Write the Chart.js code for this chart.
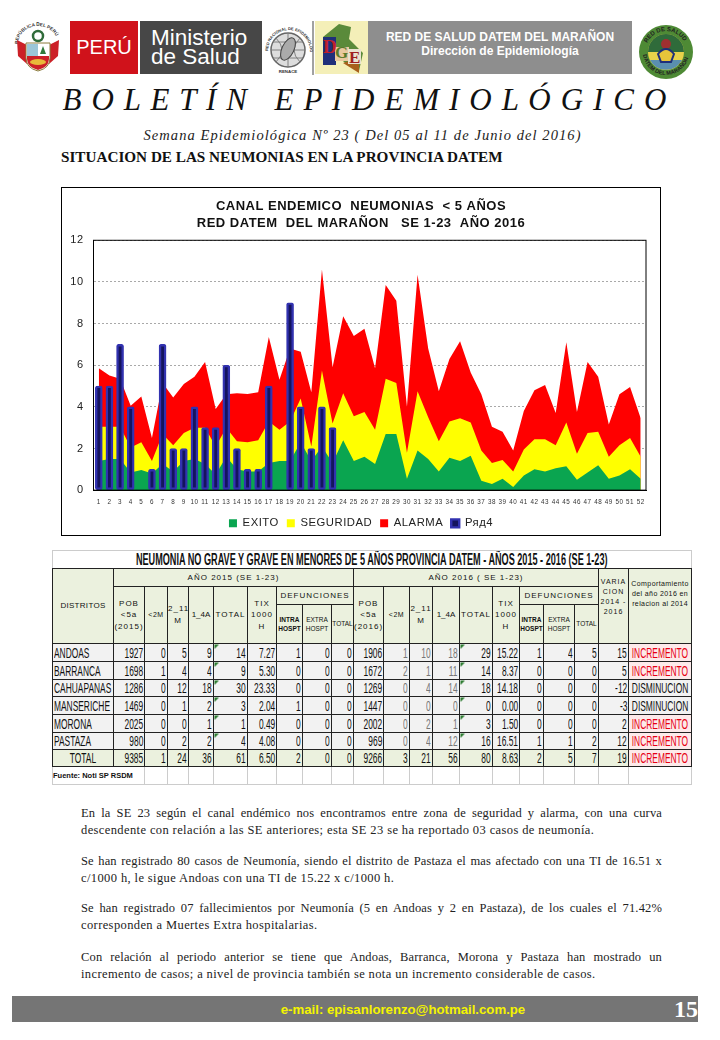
<!DOCTYPE html>
<html lang="es">
<head>
<meta charset="utf-8">
<title>Boletín Epidemiológico</title>
<script src="https://cdn.jsdelivr.net/npm/chart.js@4"></script>
<style>
html,body{margin:0;padding:0;background:#fff;width:720px;height:1040px;overflow:hidden}
.a{position:absolute}
#page{position:relative;width:720px;height:1040px;font-family:"Liberation Sans",Arial,sans-serif}
#chartBox{left:61px;top:187px;width:598px;height:347px;border:1px solid #000;background:#fff}
#chartBox canvas{display:block}
table{border-collapse:collapse;table-layout:fixed;position:absolute;left:52px;top:550px;width:639px;font-family:"Liberation Sans",sans-serif;color:#111}
td{padding:0;border:1px solid #222;font-size:14px;line-height:1;overflow:hidden;white-space:nowrap}
td span.s{display:inline-block;transform:scaleX(.6)}
td.n span.s{transform-origin:100% 50%;margin-left:-100px}
td.d span.s{transform-origin:0 50%;margin-right:-100px}
td.c span.s{transform-origin:50% 50%;margin:0 -100px}
td.h{background:#ebf1de;text-align:center;font-size:8px;letter-spacing:1px;white-space:normal;line-height:1.45}
td.t{border:1px solid #ccc;border-bottom-color:#222;background:#fff;font-weight:bold;font-size:16px;text-align:center}
td.t span.s{transform:scaleX(.57)}
td.n{text-align:right;padding-right:1px;background:#f2f2f2}
td.d{text-align:left;padding-left:1px;background:#f2f2f2}
td.c{text-align:center}
td.g{color:#777}
td.tot{background:#ebf1de}
td.tri{background-image:linear-gradient(135deg,#2e7d32 0,#2e7d32 3px,transparent 3px)}
td.inc{color:#e60012;background:#fdeaea}
td.dis{background:#f2f2f2}
td.f{border:1px solid #ccc;background:#fff;font-size:10px}
td.sm{font-size:6.5px;font-weight:bold;letter-spacing:0;line-height:1.4}
p.x{position:absolute;left:81px;width:581px;margin:0;font-family:"Liberation Serif",serif;font-size:12.5px;line-height:16.5px;color:#222;letter-spacing:.39px;white-space:nowrap}
p.x span{display:block;white-space:normal;letter-spacing:.15px;text-align:justify;text-align-last:justify}
</style>
</head>
<body>
<div id="page">
  <!-- header -->
  <svg class="a" style="left:12px;top:22px" width="52" height="52" viewBox="0 0 52 52">
    <defs><path id="arcA" d="M6 22 A20 18 0 0 1 46 22"/></defs>
    <text font-size="4.6" font-weight="bold" fill="#333" font-family="Liberation Sans"><textPath href="#arcA">REPÚBLICA DEL PERÚ</textPath></text>
    <path d="M5 18 L15 23 L15 42 L6 34Z M47 18 L37 23 L37 42 L46 34Z" fill="#cc2027"/>
    <circle cx="26" cy="14" r="5" fill="none" stroke="#2f6b3a" stroke-width="2.5"/>
    <path d="M14 21 H38 V36 Q38 46 26 49 Q14 46 14 36Z" fill="#fff" stroke="#8a7a3a"/>
    <rect x="15" y="22" width="11" height="12" fill="#9cc6d8"/><rect x="26" y="22" width="11" height="12" fill="#fff"/>
    <path d="M31 24 L34 32 L28 32Z" fill="#2f7a3a"/>
    <path d="M15 34 H37 V37 Q37 45 26 48 Q15 45 15 37Z" fill="#cc2027"/>
    <ellipse cx="26" cy="40" rx="8" ry="3" fill="#e8b93a"/>
  </svg>
  <div class="a" style="left:70px;top:21px;width:68px;height:53px;background:#d0121b;color:#fff;font-size:20px;line-height:53px;text-align:center">PERÚ</div>
  <div class="a" style="left:140px;top:21px;width:122px;height:53px;background:#474747;color:#fff;font-size:22.5px;line-height:22px">
    <div style="position:absolute;left:11px;top:6px">Ministerio</div><div style="position:absolute;left:11px;top:25px">de Salud</div>
  </div>
  <svg class="a" style="left:264px;top:21px" width="50" height="54" viewBox="0 0 50 54">
    <defs><path id="arcB" d="M4 30 A21 21 0 0 1 46 30"/></defs>
    <text font-size="4" font-weight="bold" fill="#333" font-family="Liberation Sans"><textPath href="#arcB">RED NACIONAL DE EPIDEMIOLOGÍA</textPath></text>
    <circle cx="24" cy="29" r="17" fill="#ddd" stroke="#666" stroke-width="1.5"/>
    <path d="M7 29H41M24 12V46M12 17Q24 29 12 41M36 17Q24 29 36 41M9 21H39M9 37H39" fill="none" stroke="#777" stroke-width=".9"/>
    <ellipse cx="24" cy="28" rx="6" ry="12" fill="#aaa" stroke="#444" transform="rotate(25 24 28)"/>
    <text x="24" y="52" font-size="4.4" font-weight="bold" fill="#333" text-anchor="middle" font-family="Liberation Sans">RENACE</text>
    <line x1="49" y1="0" x2="49" y2="54" stroke="#444"/>
  </svg>
  <svg class="a" style="left:315px;top:21px" width="53" height="53" viewBox="0 0 53 53">
    <rect width="53" height="53" fill="#f4efb8"/>
    <path d="M8 16 L24 3 L36 6 L34 18 L48 32 L44 50 L30 42 L14 26Z" fill="#5a8a3a"/>
    <path d="M28 42 L44 37 L44 52 Z" fill="#a8601c"/>
    <rect x="8" y="16" width="13" height="28" fill="#1f2f7a"/>
    <rect x="20" y="26" width="14" height="14" fill="#e9c9a0"/>
    <rect x="33" y="28" width="13" height="15" fill="#e9e2d0"/>
    <text x="8" y="32" font-family="Liberation Serif" font-weight="bold" font-size="19" fill="#c0202a">D</text>
    <text x="20" y="37" font-family="Liberation Serif" font-weight="bold" font-size="17" fill="#5a7a2a">G</text>
    <text x="34" y="42" font-family="Liberation Serif" font-weight="bold" font-size="17" fill="#a02020">E</text>
  </svg>
  <div class="a" style="left:368px;top:21px;width:264px;height:53px;background:#8e8e8e;color:#fff;text-align:center;font-weight:bold;font-size:12px;line-height:14px">
    <div style="margin-top:9px">RED DE SALUD DATEM DEL MARAÑON</div><div>Dirección de Epidemiología</div>
  </div>
  <svg class="a" style="left:638px;top:24px" width="56" height="56" viewBox="0 0 56 56">
    <defs><path id="arcC" d="M7 28 A21 21 0 0 1 49 28"/><path id="arcD" d="M5 28 A23 23 0 0 0 51 28"/></defs>
    <ellipse cx="28" cy="28" rx="27" ry="27" fill="#4e8a35"/>
    <circle cx="28" cy="28" r="18" fill="#e7d24a"/>
    <path d="M10 28 A18 18 0 0 1 46 28Z" fill="#2f6b3a"/>
    <path d="M12 36 A18 18 0 0 0 44 36 Z" fill="#5a8fb0"/>
    <circle cx="28" cy="20" r="5" fill="#a03030"/>
    <path d="M20 30 Q28 20 36 30 L33 38 H23Z" fill="#e7c43a" stroke="#1f2f7a" stroke-width="2"/>
    <text font-size="6" font-weight="bold" fill="#222" font-family="Liberation Sans"><textPath href="#arcC" startOffset="14%">RED DE SALUD</textPath></text>
    <text font-size="5.6" font-weight="bold" fill="#222" font-family="Liberation Sans"><textPath href="#arcD" startOffset="4%">DATEM DEL MARAÑON</textPath></text>
  </svg>

  <div class="a" style="left:0;top:82px;width:730px;text-align:center;font-family:'Liberation Serif',serif;font-style:italic;font-size:31px;line-height:36px;letter-spacing:1.1px;color:#111;white-space:pre">B O L E T Í N   E P I D E M I O L Ó G I C O</div>
  <div class="a" style="left:0;top:126px;width:725px;text-align:center;font-family:'Liberation Serif',serif;font-style:italic;font-size:14.5px;line-height:18px;letter-spacing:1.08px;color:#222">Semana Epidemiológica Nº 23 ( Del  05 al 11 de Junio del 2016)</div>
  <div class="a" style="left:61px;top:148px;font-family:'Liberation Serif',serif;font-weight:bold;font-size:15.2px;line-height:18px;color:#111">SITUACION DE LAS NEUMONIAS EN LA PROVINCIA DATEM</div>

  <!-- chart -->
  <div id="chartBox" class="a"><canvas id="c" width="598" height="347"></canvas></div>

  <!-- table -->
  <table id="tb"></table>

  <!-- text -->
  <p class="x" style="top:805px"><span>En la SE 23 según el canal endémico nos encontramos entre zona de seguridad y alarma, con una curva</span>descendente con relación a las SE anteriores; esta SE 23 se ha reportado 03 casos de neumonía.</p>
  <p class="x" style="top:853px"><span>Se han registrado 80 casos de Neumonía, siendo el distrito de Pastaza el mas afectado con una TI de 16.51 x</span>c/1000 h, le sigue Andoas con una TI de 15.22 x c/1000 h.</p>
  <p class="x" style="top:900px"><span>Se han registrado 07 fallecimientos por Neumonía (5 en Andoas y 2 en Pastaza), de los cuales el 71.42%</span>corresponden a Muertes Extra hospitalarias.</p>
  <p class="x" style="top:949px"><span>Con relación al periodo anterior se tiene que Andoas, Barranca, Morona y Pastaza han mostrado un</span>incremento de casos; a nivel de provincia también se nota un incremento considerable de casos.</p>

  <!-- footer -->
  <div class="a" style="left:12px;top:996px;width:686px;height:26px;background:#757575"></div>
  <div class="a" style="left:12px;top:996px;width:782px;height:26px;line-height:27px;text-align:center;color:#f4f400;font-weight:bold;font-size:13.2px">e-mail: episanlorenzo@hotmail.com.pe</div>
  <div class="a" style="left:674px;top:996px;width:24px;height:26px;line-height:26px;text-align:center;color:#fff;font-weight:bold;font-size:24px;font-family:'Liberation Serif',serif">15</div>
</div>

<script>
const weeks = ["1","2","3","4","5","6","7","8","9","10","11","12","13","14","15","16","17","18","19","20","21","22","23","24","25","26","27","28","29","30","31","32","33","34","35","36","37","38","39","40","41","42","43","44","45","46","47","48","49","50","51","52"];
const exito = [1.4,1.5,1.5,0.85,0.97,0.8,1.25,0.9,1.4,1.5,1.25,0.75,1.6,1.0,0.9,0.9,1.3,1.4,1.4,2.3,1.4,2.1,1.3,2.4,1.4,1.6,1.25,2.7,2.7,0.55,1.9,1.5,0.9,1.55,1.4,1.65,0.45,0.3,0.55,0.15,0.7,1.0,0.9,1.05,1.15,0.5,0.85,1.2,0.55,0.7,1.0,0.55];
const seguridad = [3.05,3.05,3.05,2.05,2.3,1.4,2.7,2.15,2.75,3.0,3.0,2.1,3.0,2.35,2.3,2.4,3.3,2.9,3.3,4.4,2.1,5.75,3.2,4.65,3.55,3.75,2.9,5.35,5.15,1.8,4.75,3.5,2.35,3.3,3.45,3.25,1.9,1.3,1.45,0.9,1.95,2.45,2.45,2.15,3.25,1.75,2.75,2.8,1.6,2.15,2.5,1.6];
const alarma = [5.85,5.5,5.35,4.05,4.5,2.5,5.15,4.45,5.1,5.45,6.15,3.9,4.6,4.65,4.62,4.7,7.35,5.3,6.8,6.65,4.7,10.6,5.9,8.35,7.4,7.75,5.85,9.85,9.1,4.0,10.35,6.8,4.75,6.3,7.15,5.65,4.6,3.05,2.8,1.9,3.8,4.8,5.05,3.7,7.1,3.75,6.15,5.45,3.15,4.6,4.95,3.45];
const casos2016 = [5,5,7,4,null,1,7,2,2,4,3,3,6,2,1,1,5,null,9,4,2,4,3];
const yTicks = [0,2,4,6,8,10,12];
const titleLines = ["CANAL ENDEMICO  NEUMONIAS  < 5 AÑOS","RED DATEM  DEL MARAÑON   SE 1-23  AÑO 2016"];

const distritos = ["ANDOAS","BARRANCA","CAHUAPANAS","MANSERICHE","MORONA","PASTAZA","TOTAL"];
const pob2015 = [1927,1698,1286,1469,2025,980,9385];
const m2_2015 = [0,1,0,0,0,0,1];
const m11_2015 = [5,4,12,1,0,2,24];
const a4_2015 = [9,4,18,2,1,2,36];
const total2015 = [14,9,30,3,1,4,61];
const ti2015 = ["7.27","5.30","23.33","2.04","0.49","4.08","6.50"];
const intra2015 = [1,0,0,1,0,0,2];
const extra2015 = [0,0,0,0,0,0,0];
const def2015 = [0,0,0,0,0,0,0];
const pob2016 = [1906,1672,1269,1447,2002,969,9266];
const m2_2016 = [1,2,0,0,0,0,3];
const m11_2016 = [10,1,4,0,2,4,21];
const a4_2016 = [18,11,14,0,1,12,56];
const total2016 = [29,14,18,0,3,16,80];
const ti2016 = ["15.22","8.37","14.18","0.00","1.50","16.51","8.63"];
const intra2016 = [1,0,0,0,0,1,2];
const extra2016 = [4,0,0,0,0,1,5];
const def2016 = [5,0,0,0,0,2,7];
const variacion = [15,5,-12,-3,2,12,19];
const comportamiento = ["INCREMENTO","INCREMENTO","DISMINUCION","DISMINUCION","INCREMENTO","INCREMENTO","INCREMENTO"];
const colWidths = [61,31,23,21,25,34,29,26,29,22,30,26,23,27,33,27,24,31,24,30,63];

/* table */
(function(){
  const s = v=>`<span class="s">${v}</span>`;
  const sub = (pob)=>`<td class="h" rowspan="2">${pob}</td><td class="h" rowspan="2" style="font-size:7px;letter-spacing:.5px">&lt;2M</td><td class="h" rowspan="2">2_11<br>M</td><td class="h" rowspan="2" style="letter-spacing:0">1_4A</td><td class="h" rowspan="2">TOTAL</td><td class="h" rowspan="2">TIX<br>1000<br>H</td><td class="h" colspan="3">DEFUNCIONES</td>`;
  const sub2 = `<td class="h sm">INTRA<br>HOSPT</td><td class="h sm" style="font-weight:normal">EXTRA<br>HOSPT</td><td class="h" style="font-size:6.5px;letter-spacing:0">TOTAL</td>`;
  let h = '<colgroup>'+colWidths.map(w=>`<col style="width:${w}px">`).join('')+'</colgroup>';
  h += '<tr style="height:18px"><td class="t c" colspan="21">'+s('NEUMONIA NO GRAVE Y GRAVE EN MENORES DE 5 AÑOS PROVINCIA DATEM  - AÑOS 2015 - 2016 (SE 1-23)')+'</td></tr>';
  h += '<tr style="height:18px"><td class="h" rowspan="3" style="letter-spacing:.3px">DISTRITOS</td><td class="h" colspan="9">AÑO 2015 (SE 1-23)</td><td class="h" colspan="9">AÑO 2016 ( SE 1-23)</td><td class="h" rowspan="3" style="font-size:7px;vertical-align:top;padding-top:8px">VARIA<br>CION<br>2014 -<br>2016</td><td class="h" rowspan="3" style="font-size:7px;letter-spacing:.4px;white-space:nowrap;vertical-align:top;padding-top:10px">Comportamiento<br>del año 2016 en<br>relacion al 2014</td></tr>';
  h += '<tr style="height:18px">'+sub('POB<br>&lt;5a<br>(2015)')+sub('POB<br>&lt;5a<br>(2016)')+'</tr>';
  h += '<tr style="height:39px">'+sub2+sub2+'</tr>';
  const rh = [18,18,17,18,18,17,17];
  distritos.forEach((d,i)=>{
    const tot = i===6;
    const c = 'n'+(tot?' tot':'');
    const td=(v,e='')=>`<td class="${c} ${e}">${s(v)}</td>`;
    const tri = tot?'':'tri';
    const grey = tot?'':'g';
    h += `<tr style="height:${rh[i]}px">`;
    h += tot?`<td class="c tot">${s(d)}</td>`:`<td class="d">${s(d)}</td>`;
    h += td(pob2015[i])+td(m2_2015[i])+td(m11_2015[i])+td(a4_2015[i])+td(total2015[i],tri)+td(ti2015[i])+td(intra2015[i])+td(extra2015[i])+td(def2015[i]);
    h += td(pob2016[i])+td(m2_2016[i],grey)+td(m11_2016[i],grey)+td(a4_2016[i],grey)+td(total2016[i],tri)+td(ti2016[i])+td(intra2016[i])+td(extra2016[i])+td(def2016[i]);
    h += td(variacion[i]);
    h += `<td class="c ${comportamiento[i]==='INCREMENTO'?'inc':'dis'}">${s(comportamiento[i])}</td></tr>`;
  });
  h += '<tr style="height:18px"><td class="f" colspan="2" style="font-size:7.5px;font-weight:bold">Fuente: Noti SP RSDM</td>';
  for(let i=0;i<19;i++) h+='<td class="f"></td>';
  h += '</tr>';
  document.getElementById('tb').innerHTML = h;
})();

/* chart */
const plotBox = {
  id:'plotBox',
  beforeUpdate(ch){ ch.ctx.letterSpacing='0.5px'; },
  afterDatasetsDraw(ch){
    const a = ch.chartArea, g = ch.ctx;
    g.save(); g.strokeStyle='#000'; g.lineWidth=1; g.setLineDash([]);
    g.strokeRect(a.left,a.top,a.right-a.left,a.bottom-a.top);
    g.restore();
  }
};
const areaDs = (label,data,color,order)=>({type:'line',label,data,order,backgroundColor:color,borderColor:color,borderWidth:0,pointRadius:0,tension:0,fill:'origin'});
new Chart(document.getElementById('c'),{
  data:{labels:weeks,datasets:[
    areaDs('EXITO',exito,'#0aa550',2),
    areaDs('SEGURIDAD',seguridad,'#ffff00',3),
    areaDs('ALARMA',alarma,'#ff0000',4),
    {type:'bar',label:'Ряд4',data:casos2016,order:1,backgroundColor:'#14145e',borderColor:'#3232b0',borderWidth:2.4,barThickness:7,borderRadius:2,borderSkipped:false}
  ]},
  options:{
    responsive:false,animation:false,
    layout:{padding:{left:0,right:0,top:0,bottom:-4}},
    plugins:{
      tooltip:{enabled:false},
      title:{display:true,text:titleLines,color:'#111',font:{family:'Liberation Sans',size:13,weight:'bold',lineHeight:1.28},padding:{top:10,bottom:9}},
      legend:{position:'bottom',labels:{color:'#222',boxWidth:8,boxHeight:8,padding:8,font:{family:'Liberation Sans',size:11.3},sort:(a,b)=>a.datasetIndex-b.datasetIndex}}
    },
    scales:{
      x:{offset:true,grid:{display:false},border:{color:'#000'},afterFit(s){s.height+=4},
         ticks:{autoSkip:false,maxRotation:0,minRotation:0,padding:0,color:'#333',font:{family:'Liberation Sans',size:6.3}}},
      y:{min:0,max:12,afterFit(s){s.width=31.5},
         afterBuildTicks(s){s.ticks=yTicks.map(v=>({value:v}))},
         grid:{color:'#a9a9a9',drawTicks:false},border:{color:'#000',dash:[2,2]},
         ticks:{padding:10,color:'#222',font:{family:'Liberation Sans',size:11}}},
      yRightMargin:{position:'right',min:0,max:12,afterFit(s){s.width=14},
         grid:{display:false},border:{display:false},ticks:{display:false}}
    }
  },
  plugins:[plotBox]
});
</script>
</body>
</html>
